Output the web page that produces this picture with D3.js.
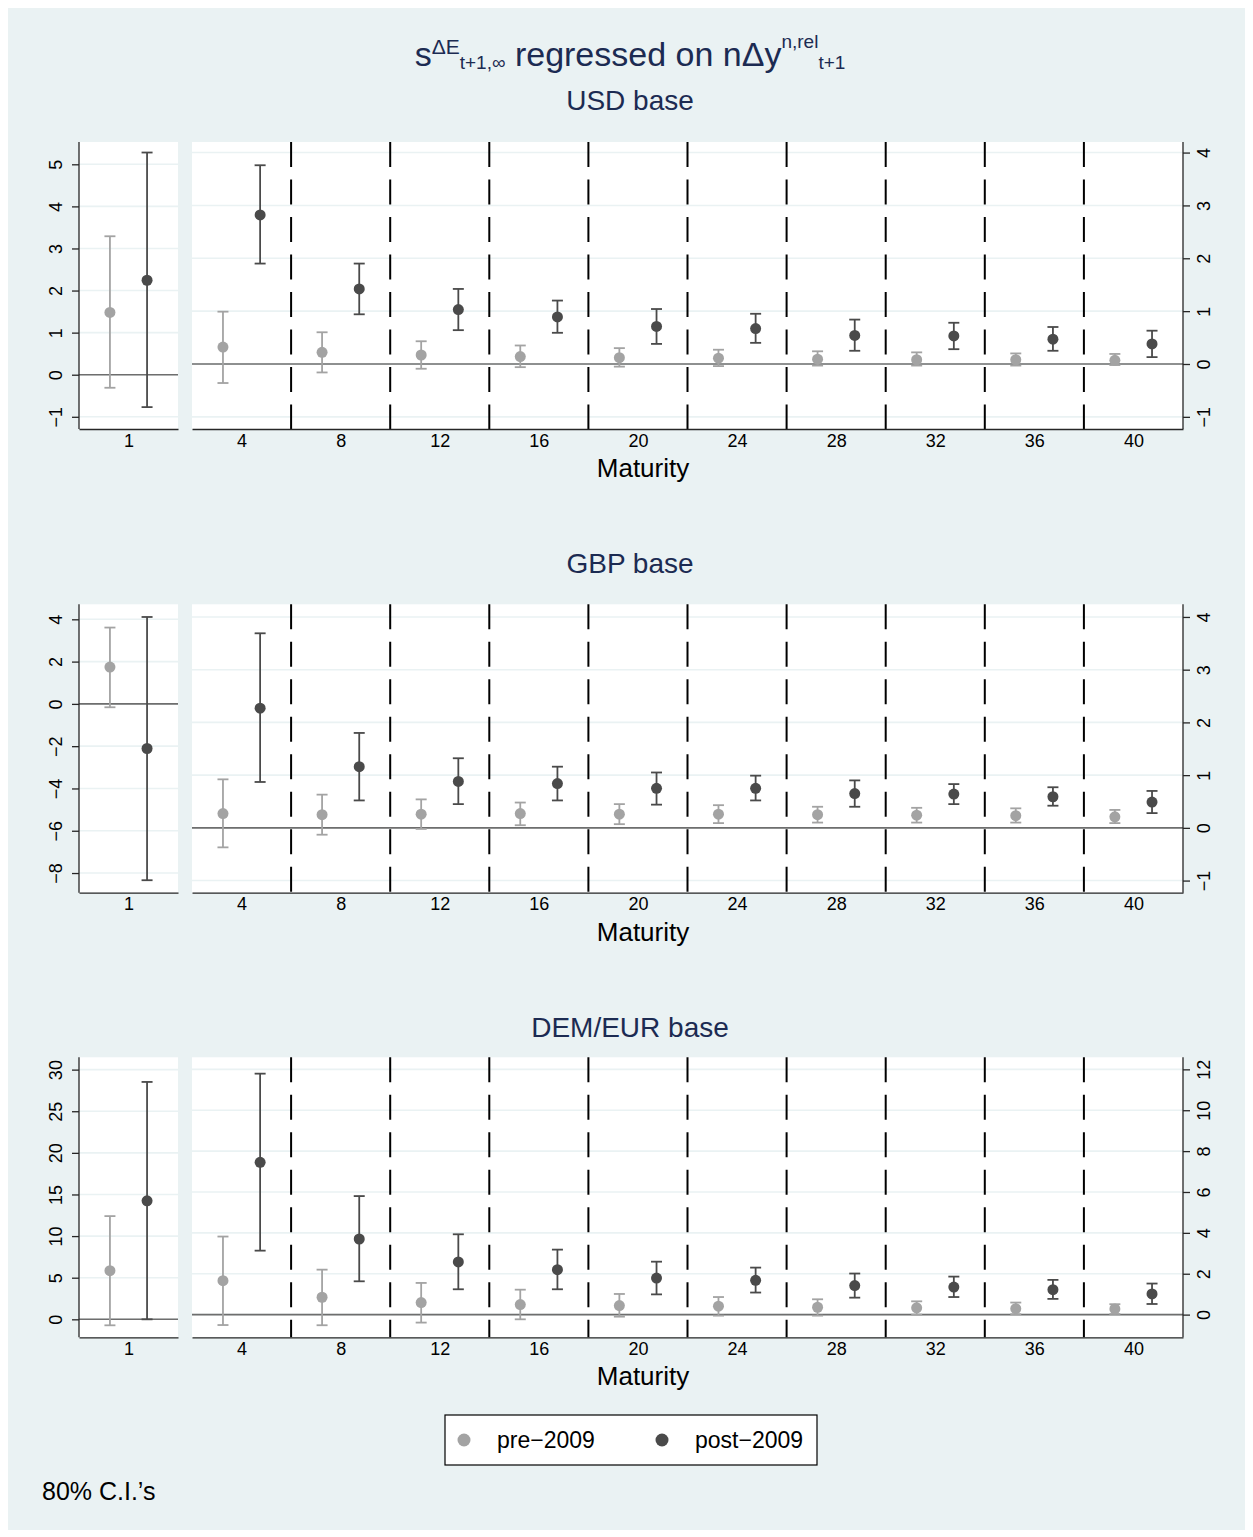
<!DOCTYPE html>
<html>
<head>
<meta charset="utf-8">
<script src="https://cdn.jsdelivr.net/npm/d3@7"></script>
<style>
  html, body { margin: 0; padding: 0; background: #ffffff; }
  svg { display: block; font-family: Arial, "Liberation Sans", Helvetica, sans-serif; }
</style>
</head>
<body>
<svg id="chart" width="1253" height="1537"></svg>
<script>
// ---------------- DATA ----------------
const horizons = [1, 4, 8, 12, 16, 20, 24, 28, 32, 36, 40];
const dividers = [6, 10, 14, 18, 22, 26, 30, 34, 38];
const seriesNames = ["pre\u22122009", "post\u22122009"];

// USD base
const usdPreEst  = [1.48, 0.32, 0.22, 0.17, 0.14, 0.12, 0.11, 0.09, 0.08, 0.08, 0.07];
const usdPreLo   = [-0.31, -0.36, -0.16, -0.09, -0.06, -0.05, -0.04, -0.03, -0.03, -0.03, -0.02];
const usdPreHi   = [3.29, 0.99, 0.60, 0.43, 0.35, 0.30, 0.27, 0.24, 0.22, 0.20, 0.19];
const usdPostEst = [2.245, 2.82, 1.42, 1.03, 0.89, 0.71, 0.67, 0.54, 0.53, 0.47, 0.38];
const usdPostLo  = [-0.77, 1.90, 0.94, 0.64, 0.59, 0.38, 0.40, 0.25, 0.28, 0.25, 0.13];
const usdPostHi  = [5.28, 3.76, 1.90, 1.42, 1.20, 1.04, 0.95, 0.84, 0.78, 0.70, 0.63];

// GBP base
const gbpPreEst  = [1.74, 0.27, 0.25, 0.26, 0.27, 0.26, 0.26, 0.25, 0.24, 0.23, 0.21];
const gbpPreLo   = [-0.16, -0.37, -0.13, -0.02, 0.05, 0.07, 0.09, 0.10, 0.10, 0.10, 0.09];
const gbpPreHi   = [3.61, 0.92, 0.63, 0.54, 0.48, 0.45, 0.43, 0.40, 0.38, 0.37, 0.34];
const gbpPostEst = [-2.11, 2.27, 1.16, 0.88, 0.84, 0.75, 0.75, 0.65, 0.64, 0.59, 0.49];
const gbpPostLo  = [-8.34, 0.87, 0.52, 0.45, 0.52, 0.44, 0.52, 0.40, 0.45, 0.42, 0.28];
const gbpPostHi  = [4.11, 3.69, 1.80, 1.32, 1.16, 1.05, 0.99, 0.90, 0.83, 0.77, 0.70];

// DEM/EUR base
const demPreEst  = [5.84, 1.66, 0.85, 0.59, 0.49, 0.44, 0.41, 0.36, 0.33, 0.29, 0.28];
const demPreLo   = [-0.72, -0.51, -0.52, -0.39, -0.23, -0.10, -0.05, -0.05, 0.0, 0.02, 0.03];
const demPreHi   = [12.4, 3.82, 2.20, 1.55, 1.22, 1.01, 0.86, 0.75, 0.65, 0.59, 0.51];
const demPostEst = [14.24, 7.45, 3.70, 2.58, 2.20, 1.79, 1.68, 1.42, 1.35, 1.22, 1.01];
const demPostLo  = [0.0, 3.13, 1.63, 1.24, 1.24, 0.99, 1.08, 0.83, 0.86, 0.77, 0.52];
const demPostHi  = [28.52, 11.79, 5.80, 3.93, 3.18, 2.59, 2.30, 2.01, 1.86, 1.70, 1.52];

// Tick labels
const usdLeftTicks  = [-1, 0, 1, 2, 3, 4, 5];
const usdRightTicks = [-1, 0, 1, 2, 3, 4];
const gbpLeftTicks  = [-8, -6, -4, -2, 0, 2, 4];
const gbpRightTicks = [-1, 0, 1, 2, 3, 4];
const demLeftTicks  = [0, 5, 10, 15, 20, 25, 30];
const demRightTicks = [0, 2, 4, 6, 8, 10, 12];

// ---------------- STYLE / LAYOUT ----------------
const BG = "#eaf2f3";
const NAVY = "#1c2b52";
const PRE_COL = "#a3a3a3";
const POST_COL = "#4a4a4a";
const AXIS_COL = "#262626";
const fmt = d3.format("d");

const panels = [
  { name: "USD base", top: 142, bottom: 429, subY: 109.5,
    leftDom: [-1.29, 5.53], rightDom: [-1.23, 4.2],
    leftTicks: usdLeftTicks, rightTicks: usdRightTicks,
    pre: [usdPreEst, usdPreLo, usdPreHi], post: [usdPostEst, usdPostLo, usdPostHi] },
  { name: "GBP base", top: 604.3, bottom: 892.7, subY: 573,
    leftDom: [-8.93, 4.71], rightDom: [-1.23, 4.24],
    leftTicks: gbpLeftTicks, rightTicks: gbpRightTicks,
    pre: [gbpPreEst, gbpPreLo, gbpPreHi], post: [gbpPostEst, gbpPostLo, gbpPostHi] },
  { name: "DEM/EUR base", top: 1057.3, bottom: 1337.3, subY: 1037,
    leftDom: [-2.16, 31.48], rightDom: [-1.11, 12.59],
    leftTicks: demLeftTicks, rightTicks: demRightTicks,
    pre: [demPreEst, demPreLo, demPreHi], post: [demPostEst, demPostLo, demPostHi] }
];

const L0 = 79, L1 = 178, R0 = 192, R1 = 1183;
const xL = d3.scaleLinear().domain([-1, 3]).range([L0, L1]);
const xR = d3.scaleLinear().domain([2, 42]).range([R0, R1]);
const OFF = 0.75;

const svg = d3.select("#chart");
svg.append("rect").attr("x", 0).attr("y", 0).attr("width", 1253).attr("height", 1537).attr("fill", "#fff");
svg.append("rect").attr("x", 8).attr("y", 8).attr("width", 1237).attr("height", 1522).attr("fill", BG);

// Main title
const title = svg.append("text").attr("x", 630).attr("y", 66).attr("text-anchor", "middle")
  .attr("fill", NAVY).style("font-size", "34px");
title.append("tspan").text("s");
title.append("tspan").attr("dy", -12).style("font-size", "21px").text("\u0394E");
title.append("tspan").attr("dy", 15).style("font-size", "19px").text("t+1,\u221e");
title.append("tspan").attr("dy", -3).text(" regressed on n\u0394y");
title.append("tspan").attr("dy", -18).style("font-size", "19px").text("n,rel");
title.append("tspan").attr("dy", 21).style("font-size", "19px").text("t+1");

panels.forEach(p => {
  const g = svg.append("g");
  const yL = d3.scaleLinear().domain(p.leftDom).range([p.bottom, p.top]);
  const yR = d3.scaleLinear().domain(p.rightDom).range([p.bottom, p.top]);

  // subtitle
  g.append("text").attr("x", 630).attr("y", p.subY).attr("text-anchor", "middle")
    .attr("fill", NAVY).style("font-size", "28px").text(p.name);

  // plot regions
  g.append("rect").attr("x", L0).attr("y", p.top).attr("width", L1 - L0).attr("height", p.bottom - p.top).attr("fill", "#fff");
  g.append("rect").attr("x", R0).attr("y", p.top).attr("width", R1 - R0).attr("height", p.bottom - p.top).attr("fill", "#fff");

  // gridlines
  g.selectAll(".gl").data(p.leftTicks).enter().append("line")
    .attr("x1", L0).attr("x2", L1).attr("y1", d => yL(d)).attr("y2", d => yL(d))
    .attr("stroke", BG).attr("stroke-width", 1.6);
  g.selectAll(".gr").data(p.rightTicks).enter().append("line")
    .attr("x1", R0).attr("x2", R1).attr("y1", d => yR(d)).attr("y2", d => yR(d))
    .attr("stroke", BG).attr("stroke-width", 1.6);

  // zero lines
  g.append("line").attr("x1", L0).attr("x2", L1).attr("y1", yL(0)).attr("y2", yL(0))
    .attr("stroke", "#6e6e6e").attr("stroke-width", 1.6);
  g.append("line").attr("x1", R0).attr("x2", R1).attr("y1", yR(0)).attr("y2", yR(0))
    .attr("stroke", "#6e6e6e").attr("stroke-width", 1.6);

  // dashed dividers
  g.selectAll(".dv").data(dividers).enter().append("line")
    .attr("x1", d => xR(d)).attr("x2", d => xR(d)).attr("y1", p.top).attr("y2", p.bottom)
    .attr("stroke", "#000").attr("stroke-width", 2).attr("stroke-dasharray", "25,12.5");

  // series
  const series = [
    { vals: p.pre, col: PRE_COL, off: -OFF },
    { vals: p.post, col: POST_COL, off: OFF }
  ];
  series.forEach(s => {
    const rows = horizons.map((h, i) => ({ h, i, est: s.vals[0][i], lo: s.vals[1][i], hi: s.vals[2][i] }));
    const px = d => d.h === 1 ? xL(d.h + s.off) : xR(d.h + s.off);
    const py = d => d.h === 1 ? yL : yR;
    const eb = g.selectAll(null).data(rows).enter().append("g");
    eb.append("line").attr("x1", px).attr("x2", px)
      .attr("y1", d => py(d)(d.lo)).attr("y2", d => py(d)(d.hi))
      .attr("stroke", s.col).attr("stroke-width", 1.8);
    eb.append("line").attr("x1", d => px(d) - 5.5).attr("x2", d => px(d) + 5.5)
      .attr("y1", d => py(d)(d.lo)).attr("y2", d => py(d)(d.lo))
      .attr("stroke", s.col).attr("stroke-width", 1.8);
    eb.append("line").attr("x1", d => px(d) - 5.5).attr("x2", d => px(d) + 5.5)
      .attr("y1", d => py(d)(d.hi)).attr("y2", d => py(d)(d.hi))
      .attr("stroke", s.col).attr("stroke-width", 1.8);
    eb.append("circle").attr("cx", px).attr("cy", d => py(d)(d.est)).attr("r", 5.5)
      .attr("fill", s.col);
  });

  // axes
  const axL = g.append("g").attr("transform", `translate(${L0},0)`)
    .call(d3.axisLeft(yL).tickValues(p.leftTicks).tickFormat(fmt).tickSizeInner(7).tickSizeOuter(0));
  axL.select(".domain").attr("d", `M0,${p.top}V${p.bottom}`);
  const axR = g.append("g").attr("transform", `translate(${R1},0)`)
    .call(d3.axisRight(yR).tickValues(p.rightTicks).tickFormat(fmt).tickSizeInner(7).tickSizeOuter(0));
  axR.select(".domain").attr("d", `M0,${p.top}V${p.bottom}`);
  [axL, axR].forEach((ax, k) => {
    ax.selectAll(".domain").attr("stroke", AXIS_COL).attr("stroke-width", 1.3);
    ax.selectAll(".tick line").attr("stroke", AXIS_COL).attr("stroke-width", 1.3);
    ax.selectAll(".tick text")
      .attr("x", 0).attr("dy", null)
      .attr("transform", k === 0 ? "translate(-23,0) rotate(-90)" : "translate(20.5,0) rotate(-90)")
      .attr("text-anchor", "middle").attr("dominant-baseline", "central")
      .attr("fill", "#000").style("font-size", "18px").style("font-family", "Arial, 'Liberation Sans', sans-serif");
  });

  const axBL = g.append("g").attr("transform", `translate(0,${p.bottom})`)
    .call(d3.axisBottom(xL).tickValues([horizons[0]]).tickFormat(fmt).tickSize(0).tickPadding(5));
  const axBR = g.append("g").attr("transform", `translate(0,${p.bottom})`)
    .call(d3.axisBottom(xR).tickValues(horizons.slice(1)).tickFormat(fmt).tickSize(0).tickPadding(5));
  [axBL, axBR].forEach(ax => {
    ax.selectAll(".domain").attr("stroke", AXIS_COL).attr("stroke-width", 1.3);
    ax.selectAll(".tick text").attr("fill", "#000").style("font-size", "18px")
      .style("font-family", "Arial, 'Liberation Sans', sans-serif");
  });

  g.append("text").attr("x", 643).attr("y", p.bottom + 48).attr("text-anchor", "middle")
    .attr("fill", "#000").style("font-size", "26px").text("Maturity");
});

// Legend
const lg = svg.append("g");
lg.append("rect").attr("x", 445).attr("y", 1415).attr("width", 372).attr("height", 50)
  .attr("fill", "#fff").attr("stroke", "#000").attr("stroke-width", 1.2);
const legendItems = [
  { name: seriesNames[0], col: PRE_COL, mx: 464, tx: 497 },
  { name: seriesNames[1], col: POST_COL, mx: 662, tx: 695 }
];
legendItems.forEach(it => {
  lg.append("circle").attr("cx", it.mx).attr("cy", 1440).attr("r", 6.5).attr("fill", it.col);
  lg.append("text").attr("x", it.tx).attr("y", 1448).attr("fill", "#000")
    .style("font-size", "23px").text(it.name);
});

// Note
svg.append("text").attr("x", 42).attr("y", 1500).attr("fill", "#000")
  .style("font-size", "25px").text("80% C.I.\u2019s");
</script>
</body>
</html>
